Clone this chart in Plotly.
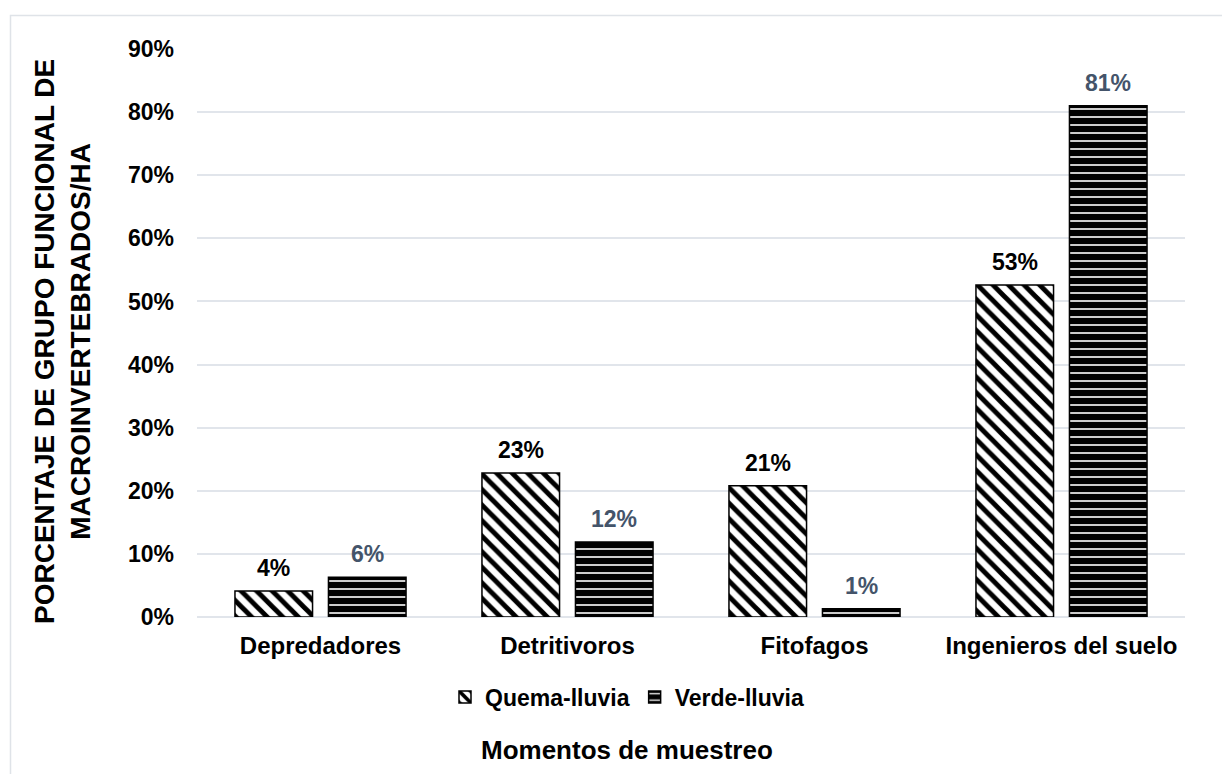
import plotly.graph_objects as go

categories = ["Depredadores", "Detritivoros", "Fitofagos", "Ingenieros del suelo"]
quema = [4.1, 22.8, 20.8, 52.6]
verde = [6.3, 11.9, 1.3, 81.0]
quema_labels = ["4%", "23%", "21%", "53%"]
verde_labels = ["6%", "12%", "1%", "81%"]
series_names = ["Quema-lluvia", "Verde-lluvia"]
yticks = list(range(0, 91, 10))

FONT = "Arial, Liberation Sans, sans-serif"
W, H = 1222, 774
L, R, T, B = 197, 37, 49, 157
pw, ph = W - L - R, H - T - B
BARGAP, GROUPGAP = 0.243, 0.17
cat_px = pw / len(categories)
bar_off = cat_px * (1 - BARGAP) / 4  # center offset of each bar within group

def px_x(px):
    return (px - L) / pw

def px_y(py):
    return (H - B - py) / ph

fig = go.Figure()
fig.add_trace(go.Bar(
    x=categories, y=quema, name=series_names[0],
    marker=dict(color="white", line=dict(color="black", width=1.5),
                pattern=dict(shape="\\", fgcolor="black", bgcolor="white",
                             fgopacity=1, size=11, solidity=0.45)),
))
fig.add_trace(go.Bar(
    x=categories, y=verde, name=series_names[1],
    marker=dict(color="black", line=dict(color="black", width=1.5),
                pattern=dict(shape="-", fgcolor="white", bgcolor="black",
                             fgopacity=1, size=8, solidity=0.2)),
))

annotations = []
for cat, v, lab in zip(categories, quema, quema_labels):
    annotations.append(dict(x=cat, y=v, text=lab, xshift=-bar_off, yshift=23,
                            xanchor="center", yanchor="middle", showarrow=False,
                            font=dict(family=FONT, size=23, color="#000000", weight="bold")))
for cat, v, lab in zip(categories, verde, verde_labels):
    annotations.append(dict(x=cat, y=v, text=lab, xshift=bar_off, yshift=23,
                            xanchor="center", yanchor="middle", showarrow=False,
                            font=dict(family=FONT, size=23, color="#44546a", weight="bold")))
annotations += [
    dict(text="PORCENTAJE DE GRUPO FUNCIONAL DE<br>MACROINVERTEBRADOS/HA",
         xref="paper", yref="paper", x=px_x(62), y=px_y(342), textangle=-90,
         xanchor="center", yanchor="middle", showarrow=False,
         font=dict(family=FONT, size=28, color="#000000", weight="bold")),
    dict(text="Momentos de muestreo", xref="paper", yref="paper",
         x=px_x(627), y=px_y(750), xanchor="center", yanchor="middle", showarrow=False,
         font=dict(family=FONT, size=26, color="#000000", weight="bold")),
]

fig.update_layout(
    width=W, height=H,
    margin=dict(l=L, r=R, t=T, b=B),
    paper_bgcolor="white", plot_bgcolor="white",
    barmode="group", bargap=BARGAP, bargroupgap=GROUPGAP,
    font=dict(family=FONT, size=18, color="#000000"),
    showlegend=True,
    legend=dict(orientation="h", x=px_x(627), y=px_y(697), xanchor="center", yanchor="middle",
                font=dict(family=FONT, size=23, color="#000000", weight="bold"),
                itemwidth=30, traceorder="normal"),
    xaxis=dict(showgrid=False, showline=False, ticks="", ticklabelstandoff=12,
               tickfont=dict(family=FONT, size=24, color="#000000", weight="bold")),
    yaxis=dict(range=[0, 90], tickvals=yticks, ticktext=[f"{v}%" for v in yticks],
               showgrid=True, gridcolor="#e1e5eb", gridwidth=1.5,
               zeroline=True, zerolinecolor="#e1e5eb", zerolinewidth=1.5,
               showline=False, ticks="", ticklabelstandoff=22,
               tickfont=dict(family=FONT, size=23, color="#000000", weight="bold")),
    annotations=annotations,
    shapes=[
        dict(type="rect", xref="paper", yref="paper",
             x0=px_x(10.5), x1=px_x(1260), y0=px_y(820), y1=px_y(15.5),
             line=dict(color="#dfe3e8", width=1.5), fillcolor="rgba(0,0,0,0)", layer="below"),
    ],
)

fig.write_html("out.html")
